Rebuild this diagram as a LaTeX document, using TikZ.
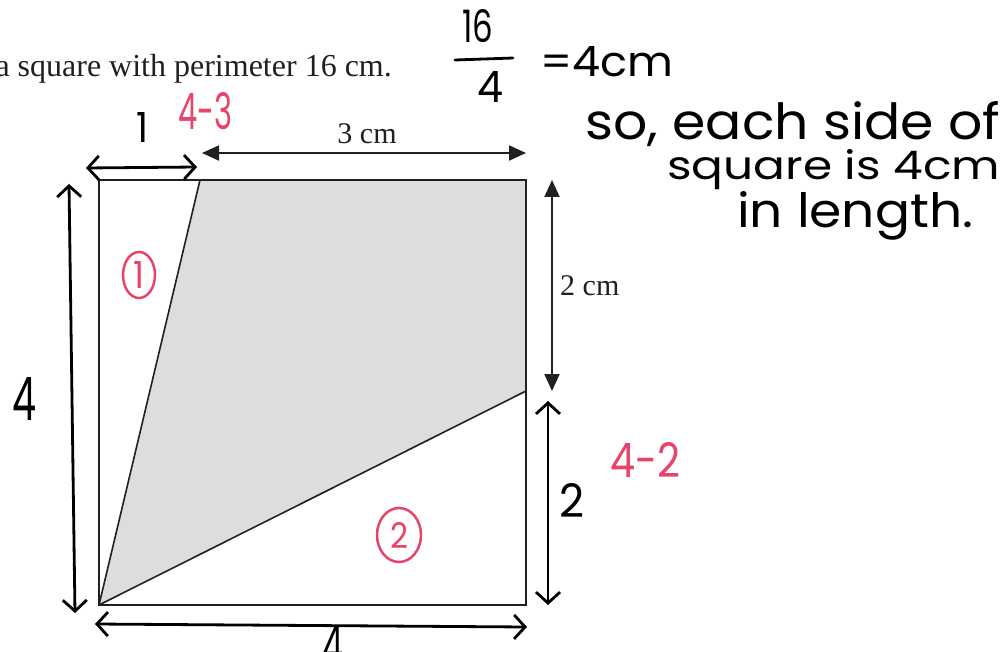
\documentclass[tikz,border=0pt]{standalone}
\usepackage{fontspec}
\setmainfont{Liberation Serif}
\newfontfamily\hand{Poppins}
\usetikzlibrary{arrows.meta,shapes.geometric}
\definecolor{ink}{HTML}{231F20}
\definecolor{shadegray}{HTML}{DCDDDF}
\definecolor{pen}{HTML}{E8436A}
\newcommand{\hwbox}[3]{\resizebox{#1}{#2}{\hand #3}}
\begin{document}
\begin{tikzpicture}[x=1pt,y=-1pt,
 sq/.style={draw=ink,line width=1.6pt},
 dim/.style={draw=ink,line width=2pt,{Triangle[length=17pt,width=15pt]}-{Triangle[length=17pt,width=15pt]}},
 handarrow/.style={draw=black,line width=2.8pt,line cap=round,{Straight Barb[length=11pt,width=24pt]}-{Straight Barb[length=11pt,width=24pt]}},
 txt/.style={inner sep=0pt, text=ink, font=\fontsize{30}{30}\selectfont},
 hw/.style={inner sep=0pt, text=black},
 red/.style={inner sep=0pt, text=pen},
 circ/.style={draw=pen, ellipse, line width=2.5pt, inner sep=0pt, text=pen},
]
\useasboundingbox (0,0) rectangle (1006,652);
% square
\coordinate (A) at (99,605);
\coordinate (B) at (526,605);
\coordinate (C) at (526,180);
\coordinate (D) at (99,180);
\coordinate (P) at (200,180);
\coordinate (Q) at (526,391);
\fill[shadegray] (A) -- (P) -- (C) -- (Q) -- cycle;
\draw[sq] (A) rectangle (C);
\draw[sq] (A) -- (P);
\draw[sq] (A) -- (Q);
% printed text and dimensions
\node[txt, anchor=base east, font=\fontsize{32}{32}\selectfont] (intro) at (392,77) {a square with perimeter 16 cm.};
\coordinate (t1) at (202,153);
\coordinate (t2) at (526,153);
\draw[dim] (t1) -- (t2);
\node[txt, anchor=base] (l3) at (367,144) {3 cm};
\coordinate (r1) at (552,180);
\coordinate (r2) at (552,391);
\draw[dim] (r1) -- (r2);
\node[txt, anchor=base west] (l2) at (560,295) {2 cm};
% handwritten arrows
\coordinate (h1a) at (86,168);
\coordinate (h1b) at (197,167);
\draw[handarrow] (h1a) -- (h1b);
\coordinate (h4a) at (69,184);
\coordinate (h4b) at (75,613);
\draw[handarrow] (h4a) -- (h4b);
\coordinate (h2a) at (548,401);
\coordinate (h2b) at (548,605);
\draw[handarrow] (h2a) -- (h2b);
\coordinate (hba) at (95,624);
\coordinate (hbb) at (527,627);
\draw[handarrow] (hba) -- (hbb);
% handwritten labels
\node[hw, anchor=base] (n1) at (142,143) {\hwbox{12pt}{30pt}{1}};
\node[hw, anchor=base] (n4l) at (25,420) {\hwbox{24pt}{43pt}{4}};
\node[hw, anchor=base] (n2r) at (572,517) {\hwbox{25pt}{34pt}{2}};
\node[hw, anchor=north] (n4b) at (333,625) {\hwbox{21pt}{40pt}{4}};
\node[red, anchor=base west] (r43) at (178,130) {\hwbox{54pt}{37pt}{4-3}};
\node[red, anchor=base west] (r42) at (610,477) {\hwbox{70pt}{35pt}{4-2}};
\node[circ, minimum width=32pt, minimum height=46pt] (c1) at (139,275) {\hwbox{11pt}{27pt}{1}};
\node[circ, minimum width=44pt, minimum height=54pt] (c2) at (399,535) {\hwbox{18pt}{26pt}{2}};
% working at top right
\node[hw, anchor=base west] (n16) at (462,43) {\hwbox{31pt}{33pt}{16}};
\coordinate (fb1) at (455,60);
\coordinate (fb2) at (513,58);
\draw[black, line width=2.8pt, line cap=round] (fb1) -- (fb2);
\node[hw, anchor=base west] (nd4) at (477,103) {\hwbox{26pt}{31pt}{4}};
\node[hw, anchor=base west] (eq) at (540,77) {\hwbox{133pt}{30pt}{=4cm}};
\node[hw, anchor=base west] (s1) at (585,140) {\hwbox{415pt}{38pt}{so, each side of}};
\node[hw, anchor=base west] (s2) at (667,180) {\hwbox{333pt}{30pt}{square is 4cm}};
\node[hw, anchor=base west] (s3) at (737,228) {\hwbox{236pt}{36pt}{in length.}};
\end{tikzpicture}
\end{document}
